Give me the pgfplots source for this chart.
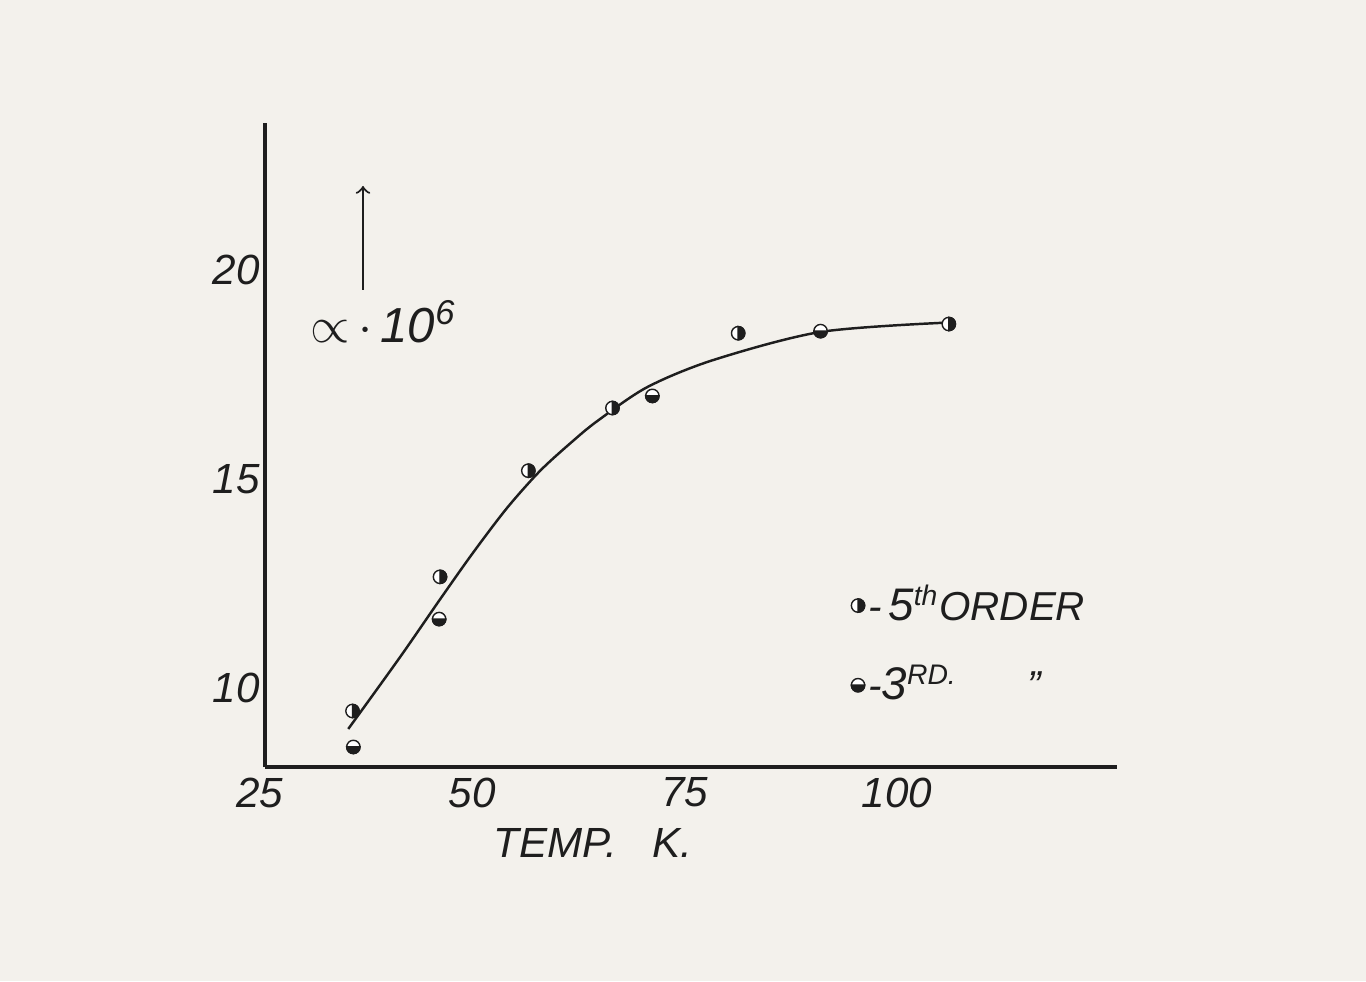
\documentclass[border=0pt]{standalone}
\usepackage{pgfplots}
\pgfplotsset{compat=1.18}
\usepackage{fontspec}
\setmainfont{Liberation Sans}
\definecolor{paper}{RGB}{243,241,236}
\definecolor{ink}{RGB}{30,30,30}
\pgfdeclareplotmark{halfright}{%
  \pgfpathcircle{\pgfpointorigin}{\pgfplotmarksize}%
  \pgfsetfillcolor{white}%
  \pgfusepathqfillstroke
  \pgfpathmoveto{\pgfqpoint{0pt}{-\pgfplotmarksize}}%
  \pgfpatharc{-90}{90}{\pgfplotmarksize}%
  \pgfpathclose
  \pgfsetfillcolor{ink}%
  \pgfusepathqfillstroke
}
\pgfdeclareplotmark{halfbottom}{%
  \pgfpathcircle{\pgfpointorigin}{\pgfplotmarksize}%
  \pgfsetfillcolor{white}%
  \pgfusepathqfillstroke
  \pgfpathmoveto{\pgfqpoint{-\pgfplotmarksize}{0pt}}%
  \pgfpatharc{180}{360}{\pgfplotmarksize}%
  \pgfpathclose
  \pgfsetfillcolor{ink}%
  \pgfusepathqfillstroke
}
\begin{document}
\begin{tikzpicture}[x=1cm,y=1cm]
\fill[paper] (0,0) rectangle (13.66,9.81);
\begin{axis}[
  at={(2.65cm,2.14cm)}, anchor=south west, scale only axis,
  width=8.52cm, height=6.44cm,
  xmin=25, xmax=125.3, ymin=8.11, ymax=23.52,
  axis lines=left, axis line style={-, line width=0.9pt, ink},
  xtick={25,50,75,100}, ytick={10,15,20},
  major tick length=0pt,
  tick label style={font=\fontsize{12}{12}\selectfont\itshape, text=ink},
  /pgf/number format/assume math mode=true,
  xticklabel style={yshift=0.5pt, xshift=-1.5pt},
  yticklabel style={xshift=2pt},
  legend style={draw=none, fill=none, at={(0.675,0.30)}, anchor=north west,
    row sep=3.2mm, font=\fontsize{11.5}{13}\selectfont\itshape, text=ink,
    nodes={inner sep=1pt}},
  legend cell align=left,
  clip=false,
]
\addplot[smooth, tension=0.5, line width=0.7pt, ink, forget plot] coordinates {
 (34.8,9.02) (40.9,10.74) (45.6,12.12) (49.5,13.24) (53.5,14.31) (57.4,15.20)
 (61.3,15.92) (64.2,16.40) (70.0,17.20) (77.8,17.85) (90.4,18.52) (104.9,18.74)};
\addplot[only marks, mark=halfright, mark size=1.9pt, draw=ink, line width=0.4pt] coordinates {
 (35.3,9.45) (45.6,12.66) (56.0,15.20) (65.9,16.70) (80.7,18.49) (105.5,18.71)};
\addlegendentry{-\,{\fontsize{13}{13}\selectfont 5}\textsuperscript{th}ORDER}
\addplot[only marks, mark=halfbottom, mark size=1.9pt, draw=ink, line width=0.4pt] coordinates {
 (35.4,8.59) (45.5,11.65) (70.6,16.99) (90.4,18.54)};
\addlegendentry{-{\fontsize{13}{13}\selectfont 3}\textsuperscript{RD.}\hspace{7mm}''}
\end{axis}
\node[anchor=base west, inner sep=0pt, font=\fontsize{12}{12}\selectfont\itshape, text=ink] at (4.93,1.24) {TEMP.\hspace{3.5mm}K.};
\node[anchor=base west, inner sep=0pt, font=\fontsize{14}{14}\selectfont\itshape, text=ink] at (3.10,6.38) {$\propto$\,$\cdot$\,10\textsuperscript{6}};
\draw[->, line width=0.6pt, ink] (3.63,6.91) -- (3.63,7.95);
\end{tikzpicture}
\end{document}
